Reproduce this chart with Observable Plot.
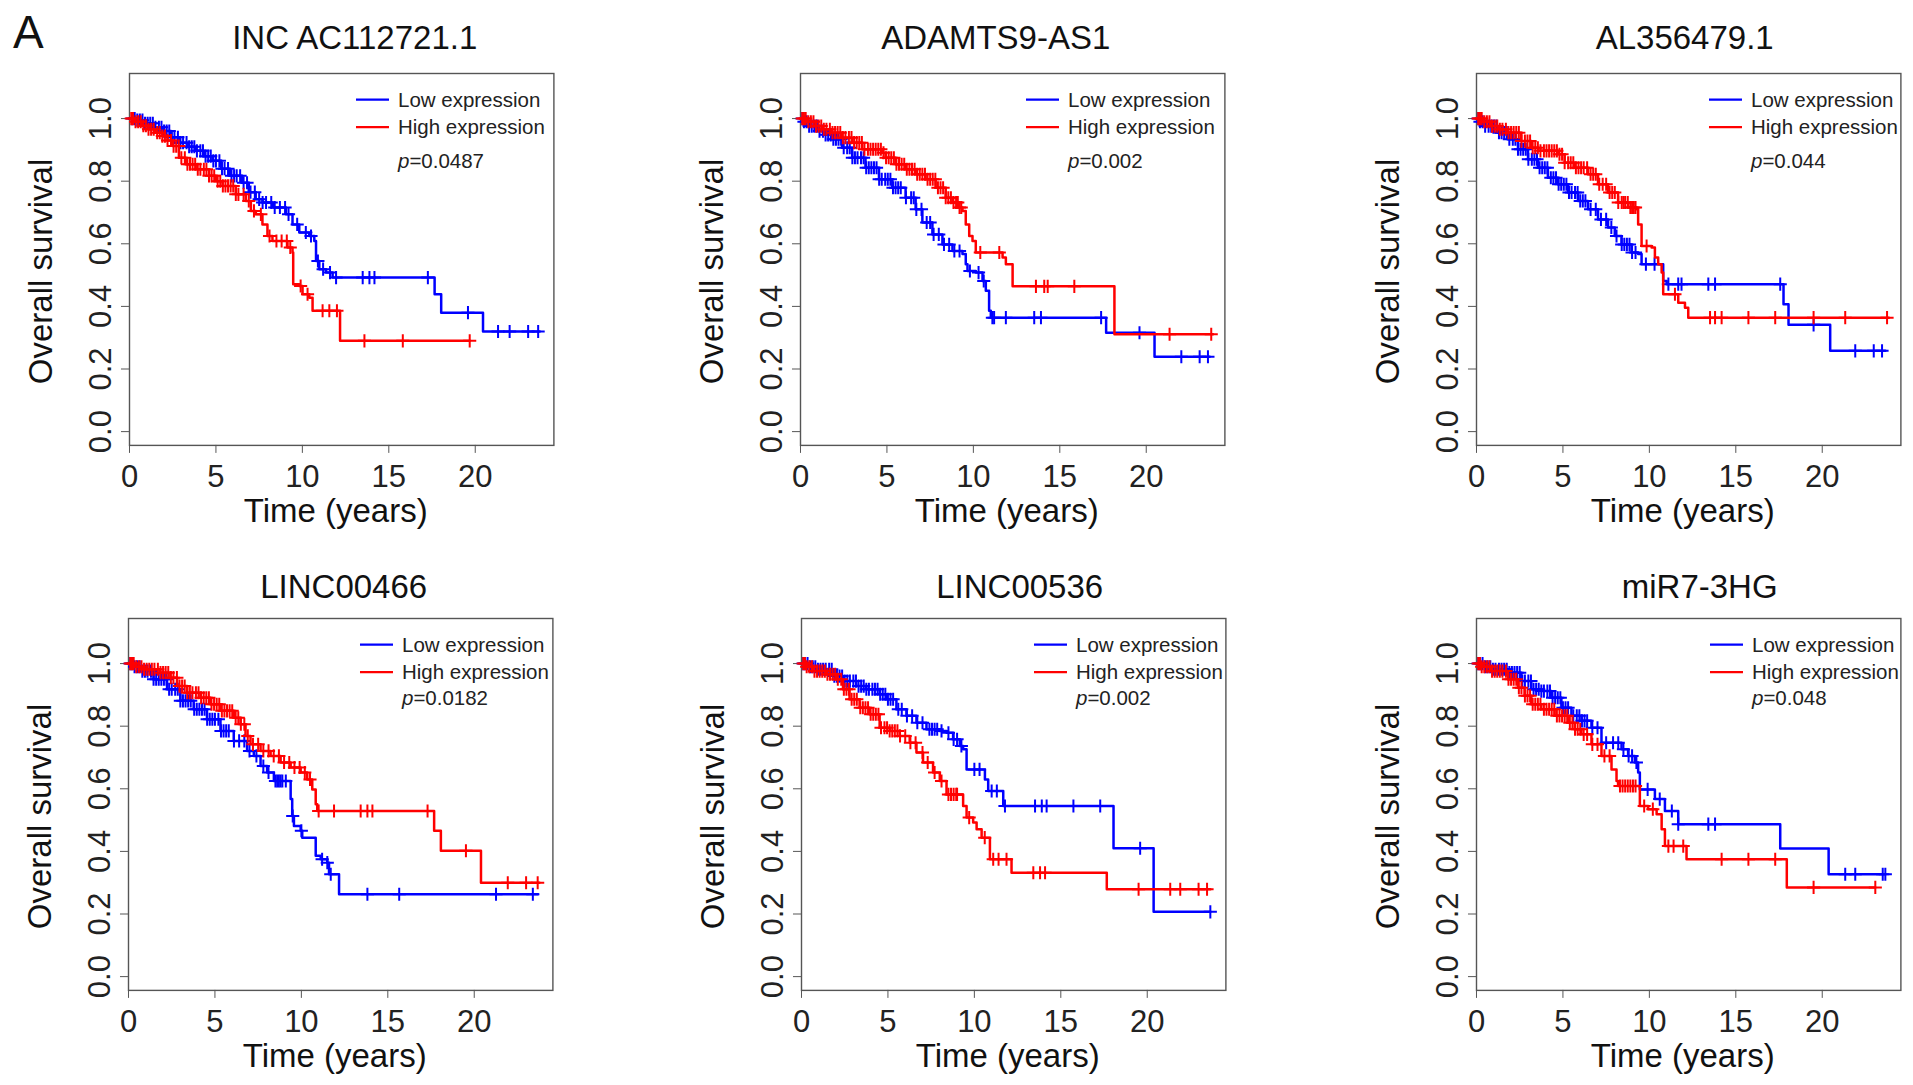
<!DOCTYPE html>
<html><head><meta charset="utf-8">
<script src="https://cdn.jsdelivr.net/npm/d3@7"></script>
<script src="https://cdn.jsdelivr.net/npm/@observablehq/plot@0.6"></script>
<style>
html,body{margin:0;padding:0;background:#fff;}
#root{position:relative;width:1913px;height:1085px;overflow:hidden;font-family:"Liberation Sans",Arial,Helvetica,sans-serif;}
.panel{position:absolute;}
#tag{position:absolute;left:13px;top:9px;font-size:46px;line-height:1;color:#111;}
</style></head><body><div id="root"><div id="tag">A</div></div>
<script>
// ---------- data ----------
const titles = ["INC AC112721.1", "ADAMTS9-AS1", "AL356479.1", "LINC00466", "LINC00536", "miR7-3HG"];
const pValues = ["0.0487", "0.002", "0.044", "0.0182", "0.002", "0.048"];
const legendLabels = ["Low expression", "High expression"];
const xTicks = [0, 5, 10, 15, 20];
const yTicks = [0, 0.2, 0.4, 0.6, 0.8, 1.0];

// Kaplan-Meier steps [time, survival] (survival holds from that time on)
const lowSteps = [
  [[0,1],[0.4,0.995],[0.9,0.985],[1.4,0.972],[1.9,0.960],[2.4,0.94],[2.9,0.923],[3.4,0.91],[3.8,0.897],[4.3,0.88],[4.8,0.865],[5.3,0.84],[5.8,0.817],[6.5,0.795],[6.9,0.765],[7.3,0.742],[7.7,0.732],[8.3,0.716],[9.05,0.694],[9.43,0.662],[9.82,0.636],[10.4,0.625],[10.69,0.609],[10.79,0.545],[10.98,0.519],[11.37,0.508],[11.75,0.492],[17.65,0.439],[18.03,0.38],[20.45,0.32],[23.73,0.32]],
  [[0,1],[0.2,0.99],[0.48,0.976],[1.06,0.96],[1.4,0.948],[1.83,0.934],[2.41,0.907],[2.99,0.875],[3.76,0.843],[4.54,0.806],[5.31,0.779],[6.08,0.747],[6.66,0.71],[7.05,0.668],[7.63,0.63],[8.21,0.598],[8.79,0.577],[9.37,0.567],[9.56,0.535],[9.66,0.513],[10.14,0.508],[10.53,0.481],[10.72,0.45],[10.91,0.386],[11.01,0.364],[17.68,0.316],[20.48,0.239],[23.67,0.239]],
  [[0,1],[0.2,0.99],[0.46,0.976],[1.24,0.955],[1.82,0.934],[2.4,0.902],[2.98,0.87],[3.56,0.843],[4.13,0.811],[4.72,0.79],[5.3,0.764],[5.87,0.737],[6.45,0.71],[7.03,0.678],[7.61,0.652],[8.0,0.625],[8.39,0.598],[8.97,0.572],[9.35,0.567],[9.55,0.535],[10.8,0.481],[11.0,0.471],[17.76,0.407],[18.05,0.341],[20.46,0.258],[23.65,0.258]],
  [[0,1],[0.3,0.99],[0.68,0.976],[1.45,0.95],[2.23,0.918],[3.0,0.881],[3.77,0.854],[4.54,0.822],[5.32,0.785],[6.09,0.753],[6.86,0.721],[7.25,0.705],[7.64,0.673],[8.02,0.652],[8.41,0.625],[9.38,0.567],[9.47,0.513],[9.57,0.481],[9.96,0.466],[10.05,0.444],[10.83,0.386],[11.12,0.375],[11.5,0.364],[11.6,0.327],[12.18,0.263],[23.68,0.263]],
  [[0,1],[0.4,0.99],[0.85,0.982],[1.82,0.96],[2.4,0.944],[3.17,0.928],[3.75,0.918],[4.52,0.902],[4.91,0.886],[5.49,0.854],[6.07,0.833],[6.65,0.811],[7.23,0.79],[8.0,0.785],[8.39,0.779],[8.77,0.758],[9.16,0.737],[9.35,0.726],[9.55,0.662],[10.61,0.63],[10.8,0.593],[11.67,0.545],[18.05,0.41],[20.37,0.207],[23.65,0.207]],
  [[0,1],[0.4,0.99],[0.85,0.982],[1.82,0.971],[2.59,0.944],[3.17,0.918],[3.75,0.912],[4.33,0.891],[4.91,0.859],[5.49,0.833],[6.07,0.817],[6.65,0.795],[7.23,0.747],[8.39,0.726],[8.77,0.705],[9.16,0.684],[9.35,0.652],[9.45,0.598],[10.32,0.567],[10.9,0.529],[11.67,0.487],[17.57,0.409],[20.37,0.327],[23.65,0.327]]
];
const highSteps = [
  [[0,1],[0.3,0.99],[0.7,0.977],[1.1,0.966],[1.5,0.955],[1.9,0.944],[2.2,0.93],[2.5,0.912],[2.86,0.875],[3.25,0.854],[3.83,0.838],[4.6,0.817],[5.0,0.80],[5.38,0.785],[6.15,0.758],[6.73,0.737],[7.02,0.705],[7.31,0.694],[7.69,0.662],[7.98,0.625],[8.27,0.609],[9.14,0.588],[9.43,0.572],[9.47,0.471],[9.82,0.465],[10.01,0.439],[10.4,0.428],[10.59,0.386],[12.18,0.29],[19.68,0.29]],
  [[0,1],[0.4,0.99],[0.87,0.976],[1.3,0.966],[1.83,0.955],[2.41,0.939],[2.99,0.923],[3.57,0.902],[4.73,0.891],[4.92,0.875],[5.5,0.854],[6.08,0.838],[6.66,0.822],[7.24,0.806],[7.82,0.779],[8.4,0.747],[8.79,0.732],[9.18,0.716],[9.37,0.705],[9.56,0.662],[9.76,0.625],[9.95,0.609],[10.14,0.572],[11.69,0.556],[11.88,0.535],[12.27,0.464],[18.16,0.311],[23.86,0.311]],
  [[0,1],[0.4,0.99],[0.85,0.976],[1.3,0.966],[1.82,0.955],[2.59,0.928],[3.17,0.907],[3.56,0.897],[4.72,0.886],[5.1,0.859],[5.68,0.843],[6.45,0.822],[7.03,0.79],[7.61,0.764],[8.19,0.732],[8.77,0.716],[9.26,0.71],[9.35,0.662],[9.55,0.593],[10.13,0.588],[10.32,0.556],[10.51,0.535],[10.71,0.508],[10.8,0.439],[11.67,0.412],[12.06,0.396],[12.25,0.364],[23.85,0.364]],
  [[0,1],[0.4,0.99],[0.87,0.982],[1.84,0.971],[2.42,0.955],[2.81,0.928],[3.39,0.907],[4.16,0.891],[4.74,0.87],[5.32,0.849],[6.09,0.827],[6.48,0.806],[6.77,0.769],[7.06,0.742],[7.64,0.721],[8.22,0.705],[8.8,0.684],[9.38,0.668],[9.96,0.652],[10.34,0.63],[10.63,0.598],[10.83,0.551],[10.92,0.529],[17.68,0.466],[18.07,0.402],[20.39,0.3],[23.77,0.3]],
  [[0,1],[0.3,0.99],[0.66,0.976],[1.43,0.966],[2.01,0.95],[2.4,0.918],[2.78,0.886],[3.36,0.859],[3.94,0.838],[4.52,0.795],[5.1,0.785],[5.68,0.769],[6.26,0.747],[6.65,0.716],[7.03,0.684],[7.61,0.652],[8.0,0.625],[8.39,0.582],[9.35,0.545],[9.55,0.508],[9.93,0.492],[10.13,0.471],[10.42,0.444],[10.9,0.375],[12.15,0.332],[17.66,0.279],[23.65,0.279]],
  [[0,1],[0.3,0.99],[0.85,0.976],[1.82,0.95],[2.4,0.923],[2.78,0.897],[3.17,0.87],[3.75,0.854],[4.52,0.833],[5.29,0.811],[5.68,0.79],[6.07,0.774],[6.65,0.742],[7.23,0.705],[7.81,0.662],[8.1,0.625],[8.19,0.609],[9.45,0.545],[9.93,0.535],[10.42,0.519],[10.71,0.471],[10.9,0.417],[12.15,0.375],[17.95,0.285],[23.07,0.285]]
];
// censoring times (years)
const lowCensor = [
  [0.15,0.3,0.45,0.6,0.75,0.9,1.05,1.2,1.35,1.5,1.7,1.85,2.0,2.15,2.3,2.45,2.6,2.8,2.95,3.1,3.3,3.45,3.6,3.75,3.9,4.1,4.25,4.4,4.55,4.7,4.85,5.0,5.2,5.35,5.5,5.7,5.9,6.05,6.2,6.4,6.6,6.8,7.0,7.25,7.5,7.7,7.9,8.2,8.4,8.7,9.0,9.2,9.7,10.2,10.5,10.9,11.2,11.6,11.95,13.49,13.88,14.17,17.26,19.58,21.32,21.99,23.06,23.64],
  [0.1,0.2,0.35,0.5,0.65,0.8,0.95,1.1,1.3,1.45,1.6,1.75,1.9,2.05,2.2,2.35,2.5,2.7,2.85,3.0,3.15,3.3,3.5,3.65,3.8,3.95,4.1,4.25,4.4,4.55,4.7,4.9,5.05,5.2,5.35,5.5,5.65,5.8,6.1,6.4,6.55,6.7,7.0,7.3,7.5,7.7,8.0,8.3,8.6,8.9,9.2,9.8,10.3,10.6,11.1,11.2,11.88,13.52,13.91,17.39,19.61,22.03,23.09,23.57],
  [0.1,0.2,0.35,0.5,0.7,0.85,1.0,1.15,1.3,1.45,1.6,1.75,1.9,2.1,2.25,2.4,2.55,2.7,2.85,3.0,3.2,3.35,3.5,3.65,3.8,3.95,4.1,4.3,4.45,4.6,4.75,4.9,5.05,5.2,5.35,5.5,5.7,5.85,6.0,6.15,6.3,6.6,6.9,7.2,7.5,7.8,8.1,8.4,8.55,8.7,8.85,9.0,9.2,9.8,10.3,11.1,11.67,11.86,13.41,13.8,17.57,19.5,21.91,22.98,23.46],
  [0.1,0.2,0.35,0.5,0.65,0.8,0.95,1.1,1.3,1.45,1.6,1.75,1.9,2.05,2.2,2.35,2.5,2.7,2.85,3.0,3.15,3.3,3.45,3.6,3.8,3.95,4.1,4.25,4.4,4.55,4.7,4.85,5.0,5.2,5.35,5.5,5.65,5.8,6.1,6.4,6.7,7.0,7.4,7.8,8.1,8.5,8.6,8.7,8.8,8.9,9.1,9.5,10.0,11.2,11.5,11.7,13.82,15.66,21.26,23.39],
  [0.1,0.2,0.35,0.5,0.65,0.8,0.95,1.1,1.25,1.4,1.6,1.75,1.9,2.05,2.2,2.35,2.5,2.65,2.8,3.0,3.15,3.3,3.45,3.6,3.75,3.9,4.1,4.25,4.4,4.55,4.7,4.85,5.0,5.15,5.3,5.6,5.8,6.1,6.4,6.7,7.0,7.4,7.55,7.7,7.85,8.1,8.5,8.8,9.0,9.25,10.0,10.3,11.0,11.3,11.77,13.51,13.9,14.18,15.73,17.28,19.59,23.65],
  [0.1,0.2,0.35,0.5,0.65,0.8,0.95,1.1,1.3,1.45,1.6,1.75,1.9,2.05,2.2,2.35,2.5,2.65,2.8,3.0,3.15,3.3,3.45,3.6,3.75,3.9,4.1,4.25,4.4,4.55,4.7,4.85,5.0,5.15,5.3,5.6,5.8,5.95,6.1,6.25,6.4,6.7,7.0,7.5,7.9,8.2,8.5,8.8,9.0,9.25,9.9,10.6,11.3,11.67,13.41,13.8,21.33,21.91,23.5,23.65]
];
const highCensor = [
  [0.1,0.2,0.35,0.5,0.65,0.8,0.95,1.1,1.25,1.4,1.6,1.75,1.9,2.05,2.2,2.4,2.55,2.7,2.85,3.0,3.2,3.35,3.5,3.65,3.8,3.95,4.1,4.3,4.45,4.6,4.75,4.9,5.1,5.25,5.4,5.55,5.7,5.85,6.0,6.15,6.3,6.6,6.9,7.2,7.6,8.1,8.5,8.8,9.1,9.3,9.9,10.3,11.17,11.56,12.0,13.59,15.81,19.68],
  [0.1,0.2,0.3,0.45,0.6,0.75,0.9,1.05,1.2,1.35,1.5,1.7,1.85,2.0,2.15,2.3,2.45,2.6,2.8,2.95,3.1,3.25,3.4,3.55,3.7,3.9,4.05,4.2,4.35,4.5,4.65,4.8,4.95,5.1,5.25,5.4,5.55,5.7,5.85,6.0,6.15,6.3,6.45,6.6,6.75,6.9,7.05,7.2,7.35,7.5,7.65,7.8,7.95,8.1,8.25,8.4,8.55,8.7,8.85,9.0,9.1,9.2,9.3,10.4,11.5,13.62,14.1,14.3,15.84,21.35,23.76],
  [0.1,0.2,0.3,0.45,0.6,0.75,0.9,1.05,1.2,1.35,1.5,1.7,1.85,2.0,2.15,2.3,2.45,2.6,2.8,2.95,3.1,3.25,3.4,3.55,3.7,3.9,4.05,4.2,4.35,4.5,4.65,4.8,4.95,5.1,5.3,5.45,5.6,5.75,5.9,6.05,6.2,6.4,6.6,6.75,6.9,7.1,7.3,7.5,7.7,7.85,8.0,8.2,8.4,8.5,8.6,8.75,8.9,9.0,9.1,9.2,9.84,11.48,13.51,13.8,14.18,15.73,17.28,19.5,21.33,23.75],
  [0.1,0.2,0.3,0.45,0.6,0.75,0.9,1.05,1.2,1.35,1.5,1.7,1.85,2.0,2.15,2.3,2.45,2.6,2.8,2.95,3.1,3.25,3.4,3.55,3.7,3.9,4.05,4.2,4.35,4.5,4.65,4.8,4.95,5.1,5.25,5.4,5.55,5.7,5.85,6.0,6.2,6.35,6.5,6.7,6.9,7.2,7.5,7.8,8.1,8.4,8.7,9.0,9.3,9.6,9.9,10.2,10.5,11.0,11.89,13.43,13.82,14.11,17.3,19.52,21.94,23.0,23.67],
  [0.1,0.2,0.3,0.45,0.6,0.75,0.9,1.05,1.2,1.35,1.5,1.65,1.8,1.95,2.1,2.3,2.45,2.6,2.75,2.9,3.05,3.2,3.4,3.55,3.7,3.85,4.0,4.15,4.3,4.45,4.6,4.8,4.95,5.1,5.25,5.4,5.55,5.7,6.0,6.3,6.6,7.0,7.3,7.7,8.1,8.5,8.65,8.8,8.95,9.0,9.7,10.6,11.09,11.4,11.86,13.41,13.8,14.09,19.5,21.33,21.91,22.97,23.46],
  [0.1,0.2,0.3,0.45,0.6,0.75,0.9,1.05,1.2,1.35,1.5,1.7,1.85,2.0,2.15,2.3,2.45,2.6,2.8,2.95,3.1,3.25,3.4,3.55,3.7,3.9,4.05,4.2,4.35,4.5,4.65,4.8,4.95,5.1,5.25,5.4,5.55,5.7,5.85,6.0,6.2,6.4,6.7,7.0,7.4,7.7,8.3,8.45,8.6,8.75,8.9,9.05,9.2,9.7,10.2,11.1,11.4,11.96,14.18,15.73,17.28,19.5,23.07]
];

// ---------- styling / layout ----------
const seriesColors = ["#0000ff", "#ff0000"];
const FONT = '"Liberation Sans", Arial, Helvetica, sans-serif';
const frameLeft = [128.6, 799.5, 1475.5, 127.5, 801, 1475.5];
const frameTop = [72.7, 72.7, 72.7, 617.7, 617.7, 617.7];
const titleDx = [13, -17, -4, 3, 6, 11];
const titleDy = [-35, -35, -35, -31.5, -31.5, -31.5];
const legendX = [227, 226, 233, 232, 233, 234];
const legendRowY = [26.6, 54.2];
const pDy = [88, 88, 88, 80, 80, 80];
const frameW = 424.4, frameH = 371.9;
const mL = 128, mR = 8, mT = 73, mB = 95;

function survivalAt(steps, t) {
  let s = steps[0][1];
  for (const [ti, si] of steps) { if (ti <= t) s = si; else break; }
  return s;
}

const root = document.getElementById("root");

titles.forEach((title, i) => {
  const lowC = lowCensor[i].map(t => ({t, s: survivalAt(lowSteps[i], t)}));
  const highC = highCensor[i].map(t => ({t, s: survivalAt(highSteps[i], t)}));
  const legend = (index, scales, values, dims) => {
    const g = d3.create("svg:g").attr("font-family", FONT).attr("text-anchor", "start");
    const fl = dims.marginLeft, ft = dims.marginTop;
    legendLabels.forEach((lab, k) => {
      const yy = ft + legendRowY[k];
      g.append("line").attr("x1", fl + legendX[i]).attr("x2", fl + legendX[i] + 33)
        .attr("y1", yy).attr("y2", yy).attr("stroke", seriesColors[k]).attr("stroke-width", 2.3);
      g.append("text").attr("x", fl + legendX[i] + 42).attr("y", yy).attr("dy", "0.35em")
        .attr("text-anchor", "start").attr("font-size", 20.5).attr("fill", "#222").text(lab);
    });
    const pt = g.append("text").attr("x", fl + legendX[i] + 42).attr("y", ft + pDy[i]).attr("dy", "0.35em")
      .attr("text-anchor", "start").attr("font-size", 20.5).attr("fill", "#222");
    pt.append("tspan").attr("font-style", "italic").text("p");
    pt.append("tspan").text("=" + pValues[i]);
    return g.node();
  };
  const plot = Plot.plot({
    width: mL + frameW + mR,
    height: mT + frameH + mB,
    marginLeft: mL, marginRight: mR, marginTop: mT, marginBottom: mB,
    x: {domain: [0, 24.55]},
    y: {domain: [-0.044, 1.144]},
    style: {fontFamily: FONT, background: "transparent", overflow: "visible", color: "#222"},
    marks: [
      Plot.frame({stroke: "#555", strokeWidth: 1.4}),
      Plot.axisX({ticks: xTicks, tickSize: 8, tickPadding: 12, fontSize: 31, stroke: "#555", fill: "#222", tickFormat: d => String(d), label: null}),
      Plot.axisY({ticks: yTicks, tickSize: 8, tickFormat: () => "", stroke: "#555", label: null}),
      Plot.text(yTicks, {y: d => d, frameAnchor: "left", dx: -28.6, rotate: -90, text: d => d.toFixed(1), fontSize: 31, fill: "#222", lineAnchor: "middle", textAnchor: "middle"}),
      Plot.text([title], {frameAnchor: "top", dx: titleDx[i], dy: titleDy[i], text: d => d, fontSize: 33, fill: "#111", lineAnchor: "middle", textAnchor: "middle"}),
      Plot.text(["Time (years)"], {frameAnchor: "bottom", dx: -6, dy: 65.6, text: d => d, fontSize: 33, fill: "#111", lineAnchor: "middle", textAnchor: "middle"}),
      Plot.text(["Overall survival"], {frameAnchor: "left", dx: -88, dy: 12, rotate: -90, text: d => d, fontSize: 33, fill: "#111", lineAnchor: "middle", textAnchor: "middle"}),
      Plot.line(lowSteps[i], {x: d => d[0], y: d => d[1], curve: "step-after", stroke: seriesColors[0], strokeWidth: 2.5}),
      Plot.dot(lowC, {x: "t", y: "s", symbol: "plus", r: 4.3, stroke: seriesColors[0], strokeWidth: 2}),
      Plot.line(highSteps[i], {x: d => d[0], y: d => d[1], curve: "step-after", stroke: seriesColors[1], strokeWidth: 2.5}),
      Plot.dot(highC, {x: "t", y: "s", symbol: "plus", r: 4.3, stroke: seriesColors[1], strokeWidth: 2}),
      legend
    ]
  });
  plot.classList.add("panel");
  plot.style.left = (frameLeft[i] - mL) + "px";
  plot.style.top = (frameTop[i] - mT) + "px";
  root.appendChild(plot);
});
</script>
</body></html>
